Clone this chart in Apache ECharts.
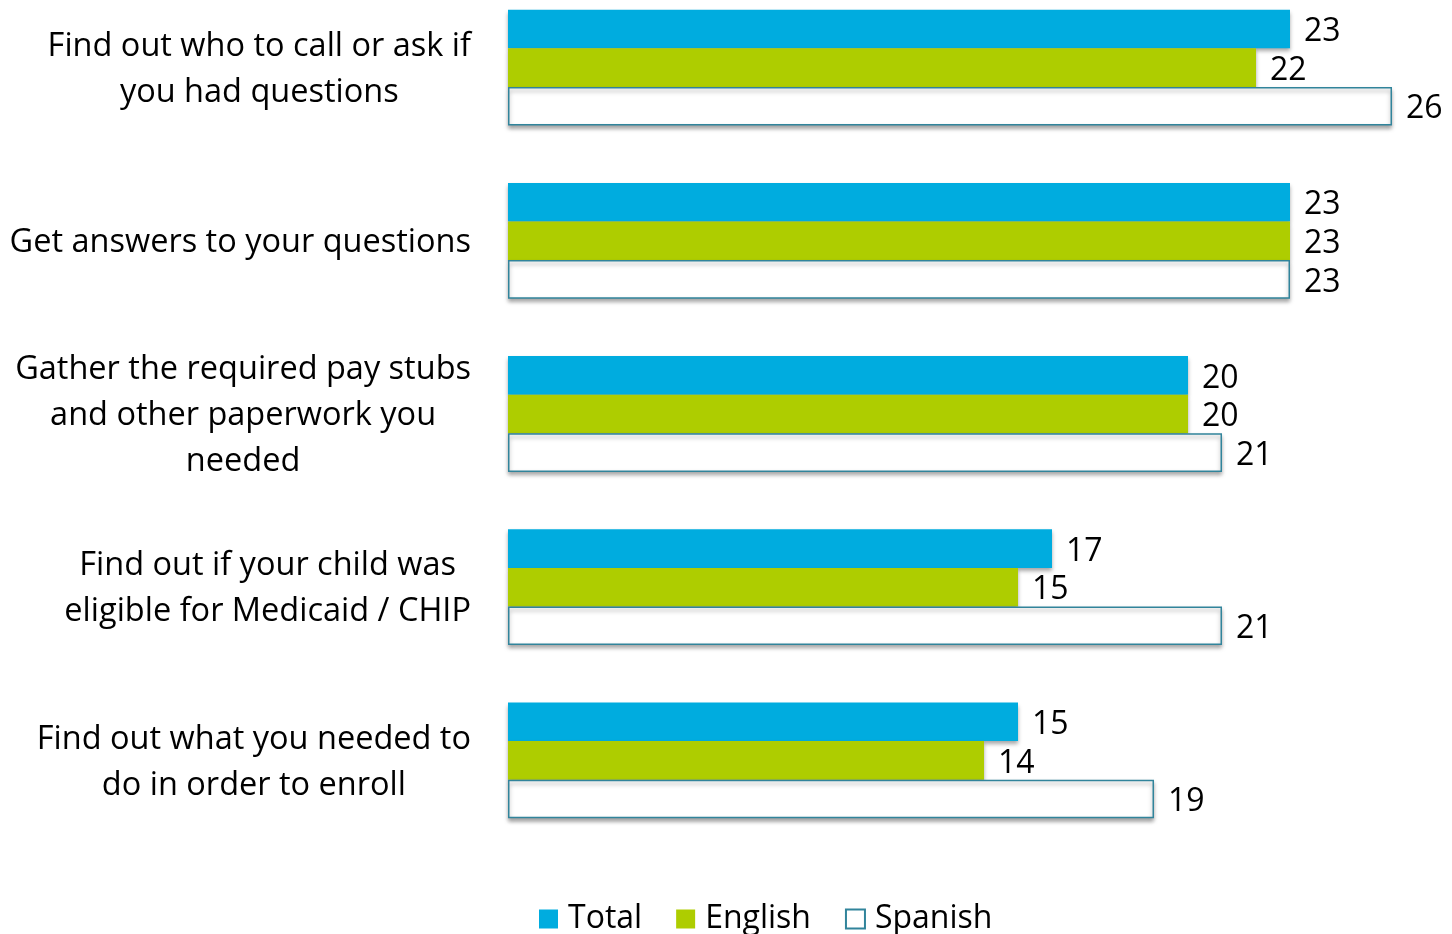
<!DOCTYPE html>
<html>
<head>
<meta charset="utf-8">
<script src="https://cdn.jsdelivr.net/npm/echarts@6/dist/echarts.min.js"></script>
<style>
  html, body { margin: 0; padding: 0; background: #fff; }
  #chart { width: 1452px; height: 934px; }
</style>
</head>
<body>
<div id="chart"></div>
<script>
// categories, top to bottom
const categories = [
  'Find out who to call or ask if\nyou had questions',
  'Get answers to your questions',
  'Gather the required pay stubs\nand other paperwork you\nneeded',
  'Find out if your child was\neligible for Medicaid / CHIP',
  'Find out what you needed to\ndo in order to enroll'
]
// bar lengths as drawn
const totalValues = [23, 23, 20, 16, 15]
const englishValues = [22, 23, 20, 15, 14]
const spanishValues = [26, 23, 21, 21, 19]
// printed labels
const totalLabels = ['23', '23', '20', '17', '15']
const englishLabels = ['22', '23', '20', '15', '14']
const spanishLabels = ['26', '23', '21', '21', '19']

const FONT = 'Open Sans'
const chart = echarts.init(document.getElementById('chart'))

const labelStyle = (labels) => ({
  show: true,
  position: 'right',
  distance: 14,
  offset: [0, 3],
  color: '#000',
  fontFamily: FONT,
  fontSize: 32,
  formatter: (p) => labels[p.dataIndex],
})

const shadow = {
  shadowColor: 'rgba(0,0,0,0.35)',
  shadowBlur: 4,
  shadowOffsetY: 3,
}

const option = {
  animation: false,
  grid: {
    left: 508,
    width: 884,
    top: -19,
    height: 866,
    outerBoundsMode: 'none',
  },
  legend: {
    left: 534,
    top: 898,
    icon: 'rect',
    itemWidth: 19,
    itemHeight: 19,
    itemGap: 34,
    textStyle: { fontFamily: FONT, fontSize: 32, color: '#000', padding: [0, 0, 0, 5] },
    data: ['Total', 'English', 'Spanish'],
  },
  xAxis: {
    type: 'value',
    min: 0,
    max: 26,
    show: false,
  },
  yAxis: {
    type: 'category',
    inverse: true,
    data: categories,
    axisLine: { show: false },
    axisTick: { show: false },
    axisLabel: {
      margin: 37,
      align: 'right',
      color: '#000',
      fontFamily: FONT,
      fontSize: 32.5,
      lineHeight: 46,
      padding: [4, 0, 0, 0],
      formatter: (v) => v.split('\n').map((s) => '{c|' + s + '}').join('\n'),
      rich: {
        c: { align: 'center', fontFamily: FONT, fontSize: 32.5, lineHeight: 46, color: '#000' },
      },
    },
  },
  series: [
    {
      name: 'Total',
      type: 'bar',
      data: totalValues,
      barWidth: 38.6,
      barGap: '0%',
      itemStyle: { color: '#00ACDF', ...shadow },
      label: labelStyle(totalLabels),
    },
    {
      name: 'English',
      type: 'bar',
      data: englishValues,
      barWidth: 38.6,
      barGap: '0%',
      itemStyle: { color: '#AECD00', ...shadow },
      label: labelStyle(englishLabels),
    },
    {
      name: 'Spanish',
      type: 'bar',
      data: spanishValues,
      barWidth: 38.6,
      barGap: '0%',
      itemStyle: { color: '#fff', borderColor: '#31849B', borderWidth: 1.5, ...shadow },
      label: labelStyle(spanishLabels),
    },
  ],
}

chart.setOption(option)
</script>
</body>
</html>
